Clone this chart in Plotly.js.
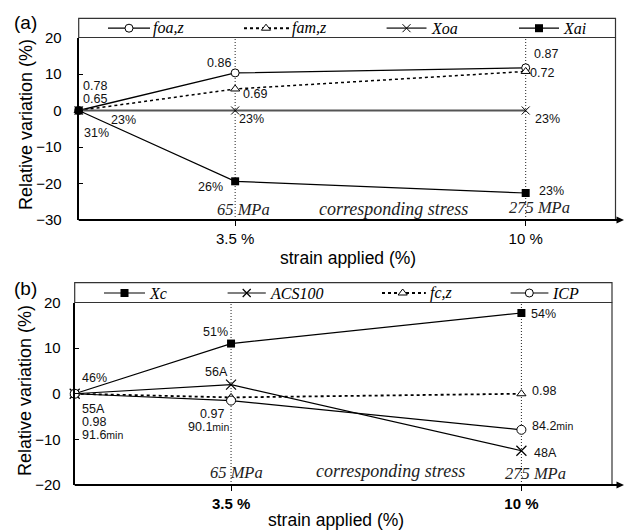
<!DOCTYPE html>
<html>
<head>
<meta charset="utf-8">
<script src="https://cdn.plot.ly/plotly-3.0.1.min.js"></script>
<style>html,body{margin:0;padding:0;background:#fff;}#chart{width:624px;height:530px;}</style>
</head>
<body>
<div id="chart"></div>
<script>
// ---------------- DATA ----------------
const strain = [0, 3.5, 10];
const strainTickVals = [3.5, 10];
const strainTickText = ['3.5 %', '10 %'];
const stressStrain = [3.5, 10];
const stressLabels = ['65 MPa', '275 MPa'];

// panel (a)
const namesA = ['foa,z', 'fam,z', 'Xoa', 'Xai'];
const foaZ = [0, 10.3, 11.7];
const famZ = [0, 5.9, 10.7];
const xoa  = [0, 0, 0];
const xai  = [0, -19.4, -22.6];
const foaLabels = ['0.78', '0.86', '0.87'];
const famLabels = ['0.65', '0.69', '0.72'];
const xoaLabels = ['23%', '23%', '23%'];
const xaiLabels = ['31%', '26%', '23%'];

// panel (b)
const namesB = ['Xc', 'ACS100', 'fc,z', 'ICP'];
const xc     = [0, 11.0, 17.7];
const acs100 = [0, 2.0, -12.5];
const fcZ    = [0, -0.8, 0];
const icp    = [0, -1.5, -7.9];
const xcLabels  = ['46%', '51%', '54%'];
const acsLabels = ['55A', '56A', '48A'];
const fcLabels  = ['0.98', '0.97', '0.98'];
const icpLabels = ['91.6', '90.1', '84.2'];
const icpUnit = 'min';

// ---------------- LAYOUT HELPERS ----------------
const W = 624, H = 530;
const px = x => x / W;
const py = y => 1 - y / H;
const SANS = 'Liberation Sans, Arial, sans-serif';
const SERIF = 'Liberation Serif, Times New Roman, serif';

// geometry (pixels)
const A = {l: 78.7, r: 615.5, top: 37.5, bot: 220, legTop: 18.3, legY: 28.2};
const B = {l: 74.7, r: 612, top: 302.5, bot: 485, legTop: 282.7, legY: 293};

// ---------------- STYLES ----------------
const white = '#ffffff', black = '#000000';
const stA = [
  {line: {color: black, width: 1.3}, marker: {symbol: 'circle', size: 8, color: white, line: {color: black, width: 1}}},
  {line: {color: black, width: 1.5, dash: '3px,3px'}, marker: {symbol: 'triangle-up', size: 8, color: white, line: {color: black, width: 1}}},
  {line: {color: '#555555', width: 1.8}, marker: {symbol: 'x-thin-open', size: 8, color: black, line: {color: black, width: 1}}},
  {line: {color: black, width: 1.2}, marker: {symbol: 'square', size: 8, color: black, line: {color: black, width: 0}}}
];
const stB = [
  {line: {color: black, width: 1.2}, marker: {symbol: 'square', size: 8, color: black, line: {color: black, width: 0}}},
  {line: {color: black, width: 1.2}, marker: {symbol: 'x-thin-open', size: 10, color: black, line: {color: black, width: 1.2}}},
  {line: {color: black, width: 1.8, dash: '3px,3px'}, marker: {symbol: 'triangle-up', size: 8, color: white, line: {color: black, width: 1}}},
  {line: {color: black, width: 1.2}, marker: {symbol: 'circle', size: 9, color: white, line: {color: black, width: 1}}}
];

const traces = [];
const seriesA = [foaZ, famZ, xoa, xai];
const seriesB = [xc, acs100, fcZ, icp];
seriesA.forEach((s, i) => traces.push({
  type: 'scatter', mode: 'lines+markers', x: strain, y: s, name: namesA[i],
  xaxis: 'x', yaxis: 'y', line: stA[i].line, marker: stA[i].marker, cliponaxis: false, showlegend: false, hoverinfo: 'skip'
}));
seriesB.forEach((s, i) => traces.push({
  type: 'scatter', mode: 'lines+markers', x: strain, y: s, name: namesB[i],
  xaxis: 'x2', yaxis: 'y2', line: stB[i].line, marker: stB[i].marker, cliponaxis: false, showlegend: false, hoverinfo: 'skip'
}));

// ---------------- CUSTOM LEGEND KEYS (pixel overlay axis) ----------------
const annotations = [];
const legA = [[108, 150, 129, 151.5], [244, 289, 266, 291], [386.6, 426.5, 406.5, 429.7], [519, 559, 539, 562]];
const legB = [[104, 145, 124.5, 148], [227.6, 265.8, 246.7, 268.6], [382, 425.8, 402.7, 428.6], [510.6, 548.4, 529.3, 551.2]];
function addLegend(keys, names, styles, yc) {
  keys.forEach((k, i) => {
    const ln = Object.assign({}, styles[i].line);
    if (ln.dash) { ln.width = 2; }
    const mk = Object.assign({}, styles[i].marker, {size: Math.min(styles[i].marker.size, 8)});
    traces.push({type: 'scatter', mode: 'lines', x: [k[0], k[1]], y: [yc, yc], xaxis: 'x3', yaxis: 'y3',
      line: ln, showlegend: false, hoverinfo: 'skip', cliponaxis: false});
    traces.push({type: 'scatter', mode: 'markers', x: [k[2]], y: [yc], xaxis: 'x3', yaxis: 'y3',
      marker: mk, showlegend: false, hoverinfo: 'skip', cliponaxis: false});
    annotations.push({xref: 'paper', yref: 'paper', x: px(k[3]), y: py(yc), xanchor: 'left', yanchor: 'middle',
      text: '<i>' + names[i] + '</i>', showarrow: false, font: {family: SERIF, size: 16, color: black}, borderpad: 0});
  });
}
addLegend(legA, namesA, stA, A.legY);
addLegend(legB, namesB, stB, B.legY);

// ---------------- DATA LABELS ----------------
function addLabels(xr, yr, ys, labels, offs, size, suffix) {
  labels.forEach((t, i) => {
    const o = offs[i];
    let txt = t;
    if (suffix) txt = t + '<span style="font-size:10.5px">' + suffix + '</span>';
    annotations.push({xref: xr, yref: yr, x: strain[i], y: ys[i], text: txt, showarrow: false,
      xanchor: o[0], yanchor: 'middle', xshift: o[1], yshift: o[2], borderpad: 0,
      font: {family: SANS, size: size, color: '#111'}});
  });
}
const LS = 12.5;
addLabels('x', 'y', foaZ, foaLabels, [['left', 3, 24.5], ['right', -3, 10], ['left', 7, 13.4]], LS);
addLabels('x', 'y', famZ, famLabels, [['left', 3, 11.5], ['left', 6.5, -5.4], ['left', 3, -2]], LS);
addLabels('x', 'y', xoa, xoaLabels, [['left', 31, -9.5], ['left', 2.5, -8.8], ['left', 8, -8.8]], LS);
addLabels('x', 'y', xai, xaiLabels, [['left', 4, -22.5], ['right', -11, -5.5], ['left', 12, 2.2]], LS);
addLabels('x2', 'y2', xc, xcLabels, [['left', 6.5, 15.5], ['right', -2, 11.2], ['left', 8.5, -1.4]], LS);
addLabels('x2', 'y2', acs100, acsLabels, [['left', 6.5, -15.5], ['right', -2, 13.1], ['left', 11.5, -2.6]], LS);
addLabels('x2', 'y2', fcZ, fcLabels, [['left', 6.5, -28], ['right', -6, -16.2], ['left', 9.5, 2.3]], LS);
addLabels('x2', 'y2', icp, icpLabels, [['left', 6.5, -41.5], ['right', -1, -26.5], ['left', 9.5, 3.6]], LS, icpUnit);

// stress labels
const stressShiftA = [8, 13.3], stressShiftB = [5, 13.6];
stressStrain.forEach((s, i) => {
  annotations.push({xref: 'x', yref: 'paper', x: s, y: py(i === 0 ? 209 : 207.7), xshift: stressShiftA[i], text: '<i>' + stressLabels[i] + '</i>',
    showarrow: false, xanchor: 'center', yanchor: 'middle', font: {family: SERIF, size: 16.5, color: '#222'}});
  annotations.push({xref: 'x2', yref: 'paper', x: s, y: py(i === 0 ? 472.4 : 473), xshift: stressShiftB[i], text: '<i>' + stressLabels[i] + '</i>',
    showarrow: false, xanchor: 'center', yanchor: 'middle', font: {family: SERIF, size: 16.5, color: '#222'}});
});
annotations.push({xref: 'paper', yref: 'paper', x: px(393.6), y: py(209), text: '<i>corresponding stress</i>', showarrow: false,
  xanchor: 'center', yanchor: 'middle', font: {family: SERIF, size: 18, color: '#222'}});
annotations.push({xref: 'paper', yref: 'paper', x: px(390), y: py(470.7), text: '<i>corresponding stress</i>', showarrow: false,
  xanchor: 'center', yanchor: 'middle', font: {family: SERIF, size: 18, color: '#222'}});

// titles
function txt(x, y, t, size, angle) {
  annotations.push({xref: 'paper', yref: 'paper', x: px(x), y: py(y), text: t, showarrow: false, textangle: angle || 0,
    xanchor: 'center', yanchor: 'middle', font: {family: SANS, size: size, color: black}, borderpad: 0});
}
txt(25, 23, '(a)', 19);
txt(25, 288, '(b)', 19);
txt(26, 125, 'Relative variation (%)', 18, -90);
txt(25, 391, 'Relative variation (%)', 18, -90);
txt(348, 257.5, 'strain applied (%)', 17.5);
txt(336, 519.5, 'strain applied (%)', 17.5);

// ---------------- SHAPES ----------------
const shapes = [];
function pline(x0, y0, x1, y1, w, c, layer) {
  shapes.push({type: 'line', xref: 'paper', yref: 'paper', x0: px(x0), y0: py(y0), x1: px(x1), y1: py(y1),
    line: {width: w, color: c}, layer: layer || 'above'});
}
function frame(G) {
  shapes.push({type: 'rect', xref: 'paper', yref: 'paper', x0: px(G.l), x1: px(G.r), y0: py(G.legTop), y1: py(G.top),
    line: {width: 1.2, color: '#333'}, fillcolor: 'rgba(0,0,0,0)'});
  pline(G.r, G.top, G.r, G.bot, 1.2, '#333');
  pline(G.l, G.bot, 619, G.bot, 2, black);
  shapes.push({type: 'path', xref: 'paper', yref: 'paper',
    path: 'M' + px(616.5) + ',' + py(G.bot - 3.5) + ' L' + px(624) + ',' + py(G.bot) + ' L' + px(616.5) + ',' + py(G.bot + 3.5) + ' Z',
    fillcolor: black, line: {width: 0, color: black}});
}
frame(A); frame(B);
stressStrain.forEach(s => {
  shapes.push({type: 'line', xref: 'x', yref: 'y', x0: s, x1: s, y0: -30, y1: 20, line: {width: 1, color: '#222', dash: '1px,2px'}, layer: 'below'});
  shapes.push({type: 'line', xref: 'x2', yref: 'y2', x0: s, x1: s, y0: -20, y1: 20, line: {width: 1, color: '#222', dash: '1px,2px'}, layer: 'below'});
});

// ---------------- AXES ----------------
const yBase = {tickmode: 'linear', tick0: 0, dtick: 10, ticks: 'inside', ticklen: 4, tickwidth: 1, tickcolor: black,
  showline: true, linewidth: 2, linecolor: black, showgrid: false, zeroline: false, fixedrange: true,
  tickfont: {family: SANS, size: 15, color: black}, ticklabelstandoff: 12};
const xBase = {tickmode: 'array', tickvals: strainTickVals, ticktext: strainTickText, ticks: 'outside', ticklen: 5, tickwidth: 1,
  tickcolor: black, showline: false, showgrid: false, zeroline: false, fixedrange: true,
  tickfont: {family: SANS, size: 15, color: black}, ticklabelstandoff: 0};

const layout = {
  width: W, height: H, margin: {l: 0, r: 0, t: 0, b: 0}, paper_bgcolor: white, plot_bgcolor: 'rgba(0,0,0,0)',
  showlegend: false,
  xaxis: Object.assign({}, xBase, {domain: [px(A.l), px(A.r)], range: [0, (A.r - A.l) / 44.7], anchor: 'y'}),
  yaxis: Object.assign({}, yBase, {domain: [py(A.bot), py(A.top)], range: [-30, 20], anchor: 'x'}),
  xaxis2: Object.assign({}, xBase, {domain: [px(B.l), px(B.r)], range: [0, (B.r - B.l) / 44.67], anchor: 'y2',
    tickfont: {family: SANS, size: 15, color: black, weight: 'bold'}}),
  yaxis2: Object.assign({}, yBase, {domain: [py(B.bot), py(B.top)], range: [-20, 20], anchor: 'x2', ticklabelstandoff: 9}),
  xaxis3: {domain: [0, 1], range: [0, W], visible: false, fixedrange: true, anchor: 'y3'},
  yaxis3: {domain: [0, 1], range: [H, 0], visible: false, fixedrange: true, anchor: 'x3'},
  shapes: shapes, annotations: annotations
};

Plotly.newPlot('chart', traces, layout, {staticPlot: true, displayModeBar: false});
</script>
</body>
</html>
